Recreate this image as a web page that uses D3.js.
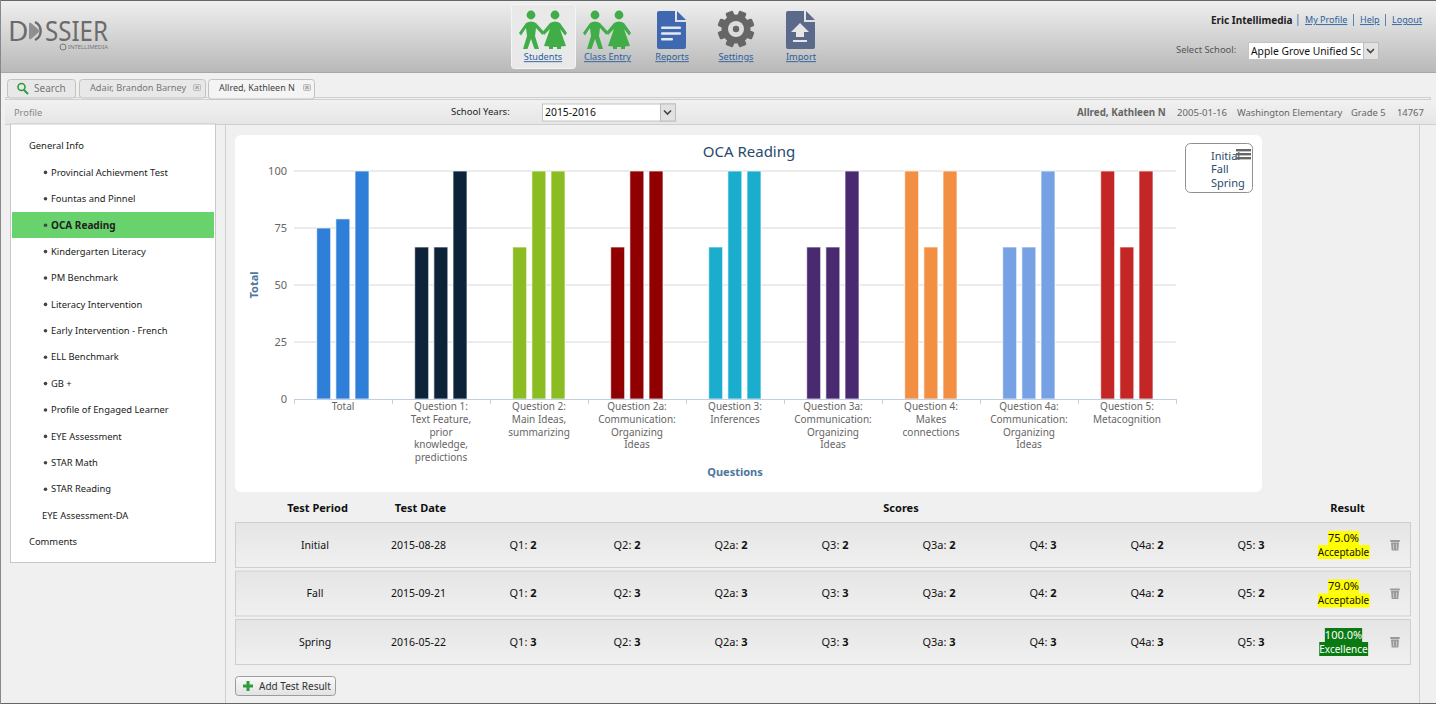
<!DOCTYPE html>
<html>
<head>
<meta charset="utf-8">
<title>OCA Reading</title>
<script src="https://cdnjs.cloudflare.com/ajax/libs/d3/7.8.5/d3.min.js"></script>
<style>
  html, body { margin: 0; padding: 0; background: #f0f0f0; overflow: hidden; }
  svg { display: block; }
  text { font-family: "Noto Sans", "DejaVu Sans", sans-serif; }
</style>
</head>
<body>
<div id="page"></div>
<script>
// chart data
const categories = [
  "Total",
  "Question 1:|Text Feature,|prior|knowledge,|predictions",
  "Question 2:|Main Ideas,|summarizing",
  "Question 2a:|Communication:|Organizing|Ideas",
  "Question 3:|Inferences",
  "Question 3a:|Communication:|Organizing|Ideas",
  "Question 4:|Makes|connections",
  "Question 4a:|Communication:|Organizing|Ideas",
  "Question 5:|Metacognition"
];
const periods = ["Initial", "Fall", "Spring"];
const initialValues = [75, 66.67, 66.67, 66.67, 66.67, 66.67, 100, 66.67, 100];
const fallValues = [79, 66.67, 100, 100, 100, 66.67, 66.67, 66.67, 66.67];
const springValues = [100, 100, 100, 100, 100, 100, 100, 100, 100];
const yTicks = [0, 25, 50, 75, 100];

// table data
const testDates = ["2015-08-28", "2015-09-21", "2016-05-22"];
const scoreNames = ["Q1", "Q2", "Q2a", "Q3", "Q3a", "Q4", "Q4a", "Q5"];
const initialScores = [2, 2, 2, 2, 2, 3, 2, 3];
const fallScores = [2, 3, 3, 3, 2, 2, 2, 2];
const springScores = [3, 3, 3, 3, 3, 3, 3, 3];
const resultPercents = ["75.0%", "79.0%", "100.0%"];
const resultNames = ["Acceptable", "Acceptable", "Excellence"];

// side menu
const topMenu = ["General Info"];
const subMenu = ["Provincial Achievment Test", "Fountas and Pinnel", "OCA Reading", "Kindergarten Literacy",
  "PM Benchmark", "Literacy Intervention", "Early Intervention - French", "ELL Benchmark", "GB +",
  "Profile of Engaged Learner", "EYE Assessment", "STAR Math", "STAR Reading"];
const endMenu = ["EYE Assessment-DA", "Comments"];

const palette = ["#2f7ed8", "#0d233a", "#8bbc21", "#910000", "#1aadce", "#492970", "#f28f43", "#77a1e5", "#c42525"];
const linkBlue = "#2a5f9e";

const svg = d3.select("#page").append("svg").attr("width", 1436).attr("height", 704);
const defs = svg.append("defs");

function gradient(id, top, bottom) {
  const g = defs.append("linearGradient").attr("id", id).attr("x1", 0).attr("x2", 0).attr("y1", 0).attr("y2", 1);
  g.append("stop").attr("offset", 0).attr("stop-color", top);
  g.append("stop").attr("offset", 1).attr("stop-color", bottom);
}
gradient("headerBg", "#f0f0f0", "#b8b8b8");
gradient("bandBg", "#f1f1f1", "#e6e6e6");
gradient("rowBg", "#e5e5e5", "#f0f0f0");
gradient("btnBg", "#fafafa", "#e2e2e2");

function label(x, y, str, opts) {
  opts = opts || {};
  const t = svg.append("text")
    .attr("x", x).attr("y", y)
    .attr("dy", "0.35em")
    .attr("font-size", opts.size || 9.4)
    .attr("fill", opts.color || "#222")
    .attr("font-weight", opts.bold ? "bold" : null)
    .attr("text-anchor", opts.anchor || "start")
    .attr("text-decoration", opts.link ? "underline" : null)
    .text(str);
  return t;
}

function box(x, y, w, h, fill, stroke, r) {
  return svg.append("rect").attr("x", x).attr("y", y).attr("width", w).attr("height", h)
    .attr("rx", r || 0).attr("fill", fill).attr("stroke", stroke || "none");
}

function drawHeader() {
  box(0, 0, 1436, 72.5, "url(#headerBg)");
  box(0, 0, 1436, 1, "#666");
  box(0, 72, 1436, 1, "#a8a8a8");

  // logo
  label(8, 31, "D", { size: 28, color: "#6b6b6b" });
  svg.append("path").attr("d", "M29 24 Q29 22 31 23 L38 29 Q40 31 38 33 L31 39 Q29 40 29 38 Z").attr("fill", "#8f8f8f");
  svg.append("path").attr("d", "M35 22 A 10 10 0 0 1 35 40").attr("fill", "none").attr("stroke", "#6b6b6b").attr("stroke-width", 2.4);
  label(45, 31, "SSIER", { size: 28, color: "#6b6b6b" }).attr("textLength", 63).attr("lengthAdjust", "spacingAndGlyphs");
  label(68, 47, "INTELLIMEDIA", { size: 6, color: "#777" }).attr("textLength", 40);
  svg.append("circle").attr("cx", 63).attr("cy", 47).attr("r", 3).attr("fill", "none").attr("stroke", "#777");

  // nav
  box(511.5, 4.5, 64, 64, "#e9e9e9", "#f5f5f5", 3);
  people(543, "#41ad49");
  people(607, "#41ad49");
  docIcon(657, "#3f68b0");
  svg.append("g").selectAll("rect").data([0, 1, 2]).join("rect")
    .attr("x", 661).attr("y", d => 26.5 + d * 5.8).attr("rx", 1).attr("height", 2.5)
    .attr("width", d => (d === 2 ? 12 : 20)).attr("fill", "#e4e8f2");
  gearIcon(736, 29);
  docIcon(786, "#5b6a8a");
  svg.append("path").attr("d", "M800 23 L809 32 L804 32 L804 37 L796 37 L796 32 L791 32 Z").attr("fill", "#e6e6e6");
  box(793, 40, 14, 2, "#e6e6e6");

  label(543, 57, "Students", { color: linkBlue, anchor: "middle", link: true, size: 9.2 });
  label(607.5, 57, "Class Entry", { color: linkBlue, anchor: "middle", link: true, size: 9.2 });
  label(672, 57, "Reports", { color: linkBlue, anchor: "middle", link: true, size: 9.2 });
  label(736, 57, "Settings", { color: linkBlue, anchor: "middle", link: true, size: 9.2 });
  label(801, 57, "Import", { color: linkBlue, anchor: "middle", link: true, size: 9.2 });

  // account links
  label(1211, 20, "Eric Intellimedia", { bold: true, size: 10 });
  label(1305, 20, "My Profile", { color: linkBlue, link: true, size: 9 });
  label(1360, 20, "Help", { color: linkBlue, link: true, size: 9 });
  label(1392, 20, "Logout", { color: linkBlue, link: true, size: 9 });
  [1297.5, 1353, 1385].forEach(function(x) { box(x, 14, 0.8, 12, "#3a6ea5"); });

  label(1176, 50, "Select School:", { color: "#555" });
  selectBox(1248, 42, 115, "Apple Grove Unified Sc", 10.3);
}

function people(cx, color) {
  const g = svg.append("g").attr("transform", `translate(${cx - 24},0)`).attr("fill", color);
  g.append("circle").attr("cx", 12).attr("cy", 15).attr("r", 4.4);
  g.append("path").attr("d", "M0 33 L7 23 Q12 20 17 23 L25 32 L23.5 35 L17 28 L16 36 L20 49 L15.5 49 L12 39 L8.5 49 L4 49 L8 36 L7 28 L2 35.5 Z");
  g.append("circle").attr("cx", 36).attr("cy", 15).attr("r", 4.4);
  g.append("path").attr("d", "M23.5 32 L31 23 Q36 20 41 23 L48 33 L46 35.5 L41 29 L47 46 L42 46.5 L42 49 L38 49 L38 47 L34 47 L34 49 L30 49 L30 46.5 L25 46 L31 29 L25 35 Z");
}

function docIcon(x, color) {
  svg.append("path")
    .attr("d", `M${x + 2} 11 H${x + 18} V22 H${x + 29} V47 Q${x + 29} 49 ${x + 27} 49 H${x + 2} Q${x} 49 ${x} 47 V13 Q${x} 11 ${x + 2} 11 Z`)
    .attr("fill", color);
  svg.append("path").attr("d", `M${x + 20} 11 L${x + 29} 20 H${x + 20} Z`).attr("fill", color);
}

function gearIcon(cx, cy) {
  const g = svg.append("g").attr("transform", `translate(${cx},${cy})`);
  g.selectAll("rect").data(d3.range(4)).join("rect")
    .attr("x", -4).attr("y", -18.5).attr("width", 8).attr("height", 37).attr("rx", 1.5)
    .attr("fill", "#666")
    .attr("transform", d => `rotate(${d * 45 + 22.5})`);
  g.append("circle").attr("r", 14.5).attr("fill", "#666");
  g.append("circle").attr("r", 8).attr("fill", "#dcdcdc");
  g.append("circle").attr("r", 3.2).attr("fill", "#666");
}

function selectBox(x, y, w, str, size) {
  box(x + 0.5, y + 0.5, w + 15, 17, "#fff", "#c4c4c4");
  box(x + w + 0.5, y + 0.5, 15, 17, "#e2e2e2", "#bdbdbd");
  svg.append("path").attr("d", `M${x + w + 4} ${y + 7} l3.5 3.5 l3.5 -3.5`)
    .attr("fill", "none").attr("stroke", "#444").attr("stroke-width", 1.6);
  label(x + 3, y + 9, str, { size: size, color: "#111" });
}

function drawTabs() {
  box(5.5, 97.5, 1425, 2, "#f0f0f0", "#cfcfcf");
  box(5, 100, 1431, 24, "url(#bandBg)");
  box(5, 124, 1431, 1, "#cfcfcf");

  box(7.5, 79.5, 68, 18.5, "#e8e8e8", "#c2c2c2", 3);
  box(79.5, 79.5, 126, 18.5, "#e8e8e8", "#c2c2c2", 3);
  box(208.5, 79.5, 106, 19.5, "#f4f4f4", "#c2c2c2", 3);

  svg.append("circle").attr("cx", 21.5).attr("cy", 87).attr("r", 3.5).attr("fill", "none")
    .attr("stroke", "#2f9e3a").attr("stroke-width", 1.6);
  svg.append("path").attr("d", "M24 90 L28 94").attr("stroke", "#2f9e3a").attr("stroke-width", 2);
  label(34, 88, "Search", { color: "#777", size: 10 });
  label(90, 88, "Adair, Brandon Barney", { color: "#777", size: 9.2 });
  label(219, 88, "Allred, Kathleen N", { color: "#444", size: 9 });
  [197, 307].forEach(function(x) {
    box(x - 3.5, 84.5, 7, 6, "#e0e0e0", "#bbb", 1);
    svg.append("path").attr("d", `M${x - 1.5} 86 l3 3 m0 -3 l-3 3`).attr("stroke", "#777").attr("stroke-width", 0.8);
  });

  label(14, 112.5, "Profile", { color: "#888", size: 9.3 });
  label(451, 112, "School Years:", { color: "#222", size: 9.5 });
  selectBox(542, 103.5, 118, "2015-2016", 10.4);

  label(1077, 112.5, "Allred, Kathleen N", { bold: true, color: "#666", size: 9.8 });
  label(1177, 112.5, "2005-01-16", { color: "#666", size: 9.6 });
  label(1237, 112.5, "Washington Elementary", { color: "#666" });
  label(1351, 112.5, "Grade 5", { color: "#666" });
  label(1397, 112.5, "14767", { color: "#666" });
}

function drawMenu() {
  box(10.5, 124, 205, 438.5, "#fff", "#c8c8c8");
  box(12, 212, 202, 26, "#68d36c");
  box(225, 125, 1, 579, "#d0d0d0");
  box(1419, 125, 1, 579, "#d0d0d0");

  const rowY = d3.scalePoint()
    .domain(topMenu.concat(subMenu, endMenu))
    .range([146, 542]);

  topMenu.forEach(function(d) { label(29, rowY(d), d); });
  subMenu.forEach(function(d) {
    const selected = d === "OCA Reading";
    svg.append("circle").attr("cx", 45.5).attr("cy", rowY(d)).attr("r", 1.8).attr("fill", "#444");
    label(51, rowY(d), d, { bold: selected, size: selected ? 10 : 9.4 });
  });
  label(42, rowY(endMenu[0]), endMenu[0]);
  label(29, rowY(endMenu[1]), endMenu[1]);
}

function drawChart() {
  box(235, 135, 1027, 357, "#fff", null, 6);

  const x = d3.scaleBand().domain(categories).range([294, 1176]);
  const x1 = d3.scaleBand().domain(periods).range([22.7, 75]).paddingInner(0.27);
  const y = d3.scaleLinear().domain([0, 100]).range([399, 171]);
  const seriesValues = [initialValues, fallValues, springValues];

  // gridlines
  svg.append("g").selectAll("line").data(yTicks.slice(1)).join("line")
    .attr("x1", 294).attr("x2", 1176)
    .attr("y1", d => y(d)).attr("y2", d => y(d))
    .attr("stroke", "#d8d8d8");

  // y axis labels
  const yAxis = svg.append("g").attr("transform", "translate(294,0)")
    .call(d3.axisLeft(y).tickValues(yTicks).tickSize(0).tickPadding(7));
  yAxis.select(".domain").remove();
  yAxis.selectAll("text").attr("font-size", 11).attr("fill", "#666")
    .style("font-family", '"Noto Sans", sans-serif');

  // bars
  categories.forEach(function(cat, i) {
    svg.append("g").attr("transform", `translate(${x(cat)},0)`)
      .selectAll("rect")
      .data(periods.map((p, k) => ({ period: p, value: seriesValues[k][i] })))
      .join("rect")
      .attr("x", d => x1(d.period))
      .attr("y", d => y(d.value))
      .attr("width", x1.bandwidth())
      .attr("height", d => y(0) - y(d.value))
      .attr("fill", palette[i])
      .attr("stroke", "#fff")
      .attr("stroke-opacity", 0.7);
  });

  // x axis line, ticks at the band edges
  const edges = categories.map(c => x(c)).concat([1176]);
  svg.append("line").attr("x1", 294).attr("x2", 1176).attr("y1", 399.5).attr("y2", 399.5).attr("stroke", "#c0d0e0");
  svg.append("g").selectAll("line").data(edges).join("line")
    .attr("x1", d => d + 0.5).attr("x2", d => d + 0.5)
    .attr("y1", 399).attr("y2", 404)
    .attr("stroke", "#c0d0e0");

  // wrapped category labels
  const catLabel = svg.append("g").selectAll("text").data(categories).join("text")
    .attr("text-anchor", "middle")
    .attr("font-size", 10)
    .attr("fill", "#666");
  catLabel.each(function(d) {
    const t = d3.select(this);
    d.split("|").forEach(function(line, k) {
      t.append("tspan")
        .attr("x", x(d) + x.bandwidth() / 2)
        .attr("y", 410 + k * 12.8)
        .text(line);
    });
  });

  label(749, 152, "OCA Reading", { size: 15, color: "#274b6d", anchor: "middle" });
  label(735, 472, "Questions", { size: 11, bold: true, color: "#4d759e", anchor: "middle" });
  svg.append("text").attr("transform", "translate(254,285) rotate(-90)")
    .attr("text-anchor", "middle").attr("dy", "0.35em")
    .attr("font-size", 11).attr("font-weight", "bold").attr("fill", "#4d759e").text("Total");

  // legend, menu button sits on top of it like the original
  box(1185.5, 143.5, 67, 49, "#fff", "#909090", 5);
  periods.forEach(function(p, k) {
    label(1211, 156 + k * 13.6, p, { size: 11, color: "#274b6d" });
  });
  [149, 153, 157].forEach(function(yy) { box(1236, yy, 15, 2.4, "#666"); });
}

function drawTable() {
  label(317.5, 508, "Test Period", { bold: true, color: "#111", anchor: "middle", size: 11 });
  label(420.5, 508, "Test Date", { bold: true, color: "#111", anchor: "middle", size: 11 });
  label(901, 508, "Scores", { bold: true, color: "#111", anchor: "middle", size: 11 });
  label(1347.5, 508, "Result", { bold: true, color: "#111", anchor: "middle", size: 11 });

  const allScores = [initialScores, fallScores, springScores];
  const rowTop = [522.5, 571, 619.5];
  const scoreX = d3.scalePoint().domain(scoreNames).range([523, 1251]);

  periods.forEach(function(p, r) {
    const top = rowTop[r];
    const mid = top + 22.5;
    box(235.5, top, 1175, 45, "url(#rowBg)", "#cfcfcf");
    label(315, mid, p, { color: "#111", anchor: "middle", size: 10.5 });
    label(418.5, mid, testDates[r], { color: "#111", anchor: "middle", size: 10.5 });

    scoreNames.forEach(function(name, c) {
      const t = label(scoreX(name), mid, name + ": ", { color: "#111", anchor: "middle", size: 11 });
      t.append("tspan").attr("font-weight", "bold").text(allScores[r][c]);
    });

    const good = resultNames[r] === "Excellence";
    [[resultPercents[r], mid - 7, 11], [resultNames[r], mid + 7, 10]].forEach(function(row) {
      const bg = svg.append("rect").attr("fill", good ? "#0a7a12" : "#ffff00");
      const t = label(1343.5, row[1], row[0], { color: good ? "#fff" : "#111", anchor: "middle", size: row[2] });
      const bb = t.node().getBBox();
      bg.attr("x", bb.x).attr("width", bb.width).attr("y", row[1] - 7).attr("height", 14);
    });

    trashIcon(1395, mid);
  });

  // add button
  box(235.5, 676.5, 100, 19, "url(#btnBg)", "#9c9c9c", 3);
  svg.append("path").attr("d", "M248 681 V691 M243 686 H253").attr("stroke", "#2f9e3a").attr("stroke-width", 3);
  label(259, 686, "Add Test Result", { color: "#333", size: 10 });
}

function trashIcon(cx, cy) {
  const g = svg.append("g").attr("transform", `translate(${cx},${cy})`).attr("fill", "#9a9a9a");
  g.append("rect").attr("x", -5).attr("y", -5).attr("width", 10).attr("height", 2).attr("rx", 1);
  g.append("path").attr("d", "M-4 -2.5 H4 L3.3 5.5 H-3.3 Z");
  g.selectAll("line").data([-1.5, 1.5]).join("line")
    .attr("x1", d => d).attr("x2", d => d).attr("y1", -1).attr("y2", 4.5)
    .attr("stroke", "#d8d8d8").attr("stroke-width", 0.7);
}

drawHeader();
drawTabs();
drawMenu();
drawChart();
drawTable();
box(0, 703, 1436, 1, "#666");
box(0, 0, 1, 704, "#888");
</script>
</body>
</html>
